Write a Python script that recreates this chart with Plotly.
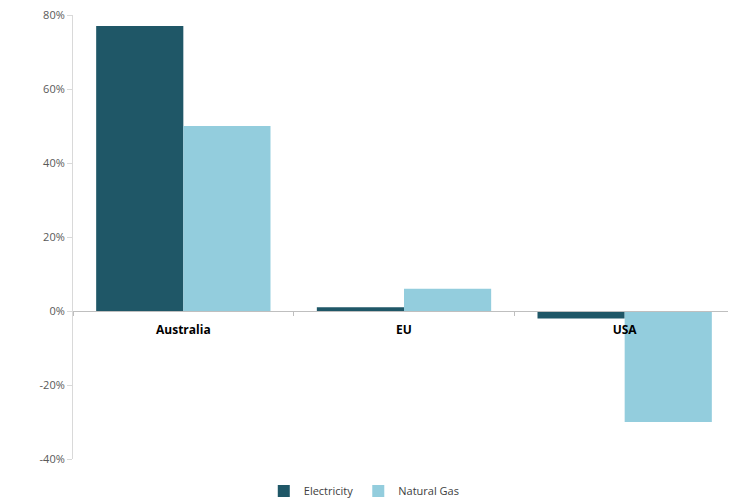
import plotly.graph_objects as go

categories = ["Australia", "EU", "USA"]
electricity = [77, 1, -2]
natural_gas = [50, 6, -30]
y_ticks = [-40, -20, 0, 20, 40, 60, 80]
y_tick_labels = ["-40%", "-20%", "0%", "20%", "40%", "60%", "80%"]

fig = go.Figure()
fig.add_trace(go.Bar(x=categories, y=electricity, name="Electricity",
                     marker=dict(color="#1F5767", line=dict(width=0))))
fig.add_trace(go.Bar(x=categories, y=natural_gas, name="Natural Gas",
                     marker=dict(color="#93CDDD", line=dict(width=0))))

fig.update_layout(
    width=728, height=492,
    margin=dict(l=65, r=1, t=7, b=41, autoexpand=False),
    paper_bgcolor="white", plot_bgcolor="white",
    barmode="group", bargap=0.21, bargroupgap=0,
    font=dict(family="Open Sans, Liberation Sans, sans-serif", color="#595959", size=11),
    showlegend=True,
    legend=dict(orientation="h", x=0.44, xanchor="center", y=-0.072, yanchor="middle",
                font=dict(size=11, color="#404040"), itemwidth=30,
                tracegroupgap=0, traceorder="normal"),
    xaxis=dict(anchor="free", position=1/3, showline=True, linecolor="#BFBFBF",
               linewidth=1, ticks="outside", tickson="boundaries", ticklen=4,
               tickcolor="#BFBFBF", showgrid=False, zeroline=False,
               ticklabelstandoff=8, ticklabeloverflow="allow",
               tickfont=dict(size=12, color="#000000", family="Open Sans, sans-serif", weight="bold")),
    yaxis=dict(range=[-40, 80], tickvals=y_ticks, ticktext=y_tick_labels,
               showline=True, linecolor="#D9D9D9", linewidth=1, ticks="outside",
               ticklen=5, tickcolor="#D9D9D9", showgrid=False, zeroline=False,
               ticklabeloverflow="allow"),
)

fig.write_html("out.html")
